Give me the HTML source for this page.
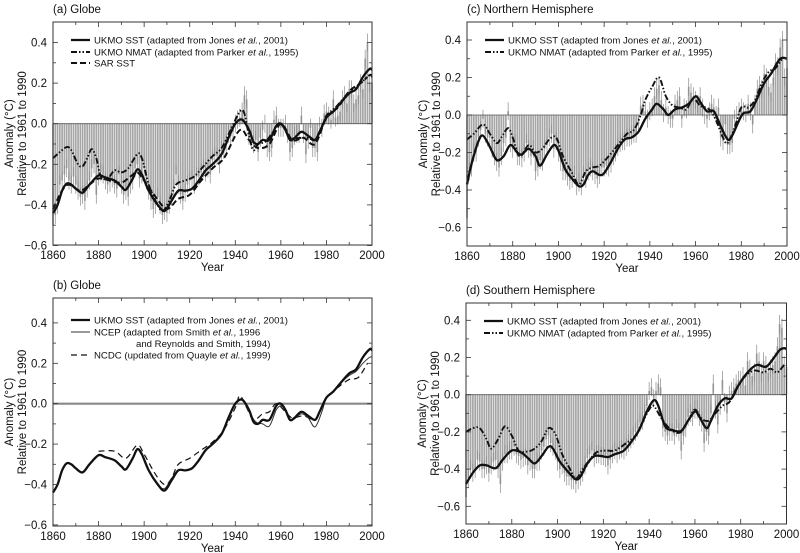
<!DOCTYPE html>
<html><head><meta charset="utf-8">
<style>
html,body{margin:0;padding:0;background:#fff;}
svg{display:block;font-family:"Liberation Sans",Arial,sans-serif;}
</style></head>
<body>
<svg id="fig" width="800" height="553" viewBox="0 0 800 553" xmlns="http://www.w3.org/2000/svg"></svg>
<script>
// ---------- DATA ----------
const years = []; for (let y = 1860; y <= 2000; y++) years.push(y);
const xTicks = [1860, 1880, 1900, 1920, 1940, 1960, 1980, 2000];
const yTicks = [0.4, 0.2, 0.0, -0.2, -0.4, -0.6];
const yTickLabels = ["0.4", "0.2", "0.0", "\u22120.2", "\u22120.4", "\u22120.6"];

// annual bars
const barsA = [-0.50,-0.45,-0.40,-0.30,-0.28,-0.25,-0.22,-0.28,-0.30,-0.26,
-0.30,-0.33,-0.36,-0.35,-0.38,-0.32,-0.28,-0.22,-0.20,-0.35,
-0.26,-0.24,-0.25,-0.28,-0.30,-0.29,-0.27,-0.30,-0.32,-0.25,
-0.30,-0.35,-0.33,-0.36,-0.30,-0.28,-0.22,-0.20,-0.27,-0.25,
-0.22,-0.28,-0.33,-0.38,-0.42,-0.40,-0.36,-0.40,-0.45,-0.43,
-0.44,-0.40,-0.36,-0.32,-0.25,-0.30,-0.35,-0.38,-0.34,-0.30,
-0.28,-0.27,-0.30,-0.26,-0.26,-0.24,-0.22,-0.24,-0.22,-0.25,
-0.18,-0.16,-0.16,-0.20,-0.13,-0.13,-0.10,-0.05,-0.06,-0.04,
0.00,0.02,0.03,0.06,0.14,0.12,-0.06,-0.08,-0.10,-0.08,
-0.14,-0.07,-0.03,0.00,-0.12,-0.14,-0.12,0.02,0.04,-0.02,
-0.02,-0.02,0.00,-0.05,-0.14,-0.12,-0.06,-0.05,-0.05,0.04,
-0.05,-0.15,-0.08,-0.02,-0.12,-0.12,-0.14,-0.01,-0.02,0.05,
0.06,0.04,0.02,0.12,0.03,0.04,0.06,0.12,0.14,0.10,
0.17,0.17,0.10,0.12,0.14,0.20,0.17,0.32,0.40,0.20,
0.20];
const barsC = [-0.55,-0.30,-0.28,-0.20,-0.20,-0.12,-0.08,-0.02,-0.10,-0.12,
-0.12,-0.18,-0.22,-0.25,-0.28,-0.22,-0.15,-0.12,0.02,-0.15,
-0.18,-0.15,-0.22,-0.22,-0.23,-0.20,-0.15,-0.18,-0.22,-0.18,
-0.30,-0.28,-0.24,-0.25,-0.18,-0.16,-0.12,-0.10,-0.18,-0.14,
-0.20,-0.25,-0.30,-0.30,-0.33,-0.35,-0.34,-0.32,-0.38,-0.36,
-0.38,-0.32,-0.34,-0.30,-0.28,-0.30,-0.32,-0.34,-0.32,-0.28,
-0.28,-0.27,-0.28,-0.26,-0.22,-0.20,-0.17,-0.15,-0.14,-0.14,
-0.12,-0.12,-0.11,-0.10,-0.10,-0.05,0.05,0.06,0.02,-0.02,
0.02,0.04,0.10,0.14,0.16,0.08,0.01,0.04,0.00,-0.02,
-0.02,0.06,0.08,0.10,-0.02,0.04,0.03,0.15,0.12,0.10,
0.08,0.06,0.10,0.04,0.00,-0.02,0.02,0.06,0.04,0.00,
0.04,-0.12,-0.14,-0.05,-0.16,-0.16,-0.15,-0.02,0.00,0.02,
0.04,0.02,0.01,0.06,0.02,-0.05,0.06,0.14,0.16,0.14,
0.22,0.20,0.15,0.12,0.20,0.28,0.26,0.36,0.40,0.20,
0.25];
const barsD = [-0.55,-0.45,-0.40,-0.42,-0.40,-0.35,-0.36,-0.40,-0.40,-0.38,
-0.42,-0.38,-0.36,-0.35,-0.40,-0.48,-0.36,-0.32,-0.32,-0.30,
-0.30,-0.28,-0.32,-0.33,-0.35,-0.34,-0.33,-0.38,-0.36,-0.40,
-0.40,-0.36,-0.36,-0.30,-0.28,-0.24,-0.22,-0.26,-0.28,-0.30,
-0.36,-0.40,-0.38,-0.42,-0.44,-0.44,-0.46,-0.46,-0.48,-0.46,
-0.44,-0.42,-0.38,-0.34,-0.32,-0.30,-0.34,-0.32,-0.32,-0.33,
-0.33,-0.34,-0.38,-0.35,-0.32,-0.30,-0.32,-0.30,-0.29,-0.30,
-0.28,-0.26,-0.24,-0.22,-0.20,-0.18,-0.15,-0.14,-0.10,-0.06,
0.02,0.04,-0.02,0.02,0.06,0.04,-0.18,-0.20,-0.22,-0.20,
-0.20,-0.22,-0.18,-0.20,-0.30,-0.22,-0.18,-0.12,-0.10,-0.12,
-0.08,-0.08,-0.12,-0.15,-0.26,-0.20,-0.22,-0.10,0.06,-0.08,
-0.16,-0.06,0.08,-0.04,-0.10,0.00,0.02,0.04,0.06,0.08,
0.08,0.10,0.05,0.18,0.14,0.10,0.12,0.22,0.18,0.12,
0.18,0.16,0.12,0.14,0.16,0.18,0.26,0.38,0.36,0.16,
0.15];

// smoothed series: years + values
const gSstYears = [1860,1862,1864,1866,1868,1870,1873,1876,1880,1883,1887,1890,1892,1895,1897,1899,1902,1906,1909,1912,1915,1918,1921,1924,1927,1930,1934,1937,1940,1943,1946,1948,1950,1952,1955,1958,1960,1962,1964,1966,1969,1972,1975,1977,1980,1983,1986,1990,1993,1996,1999,2000];
const gSstVals = [-0.44,-0.40,-0.33,-0.295,-0.30,-0.32,-0.34,-0.30,-0.255,-0.265,-0.28,-0.31,-0.325,-0.27,-0.225,-0.25,-0.33,-0.40,-0.43,-0.38,-0.33,-0.33,-0.32,-0.28,-0.23,-0.20,-0.15,-0.07,0.0,0.02,-0.03,-0.09,-0.10,-0.08,-0.08,-0.01,0.0,-0.03,-0.08,-0.07,-0.04,-0.06,-0.08,-0.04,0.03,0.06,0.10,0.15,0.17,0.23,0.27,0.265];
const gNmatYears = [1860,1863,1866,1868,1871,1873,1875,1877,1879,1881,1884,1887,1890,1893,1897,1899,1902,1905,1908,1911,1914,1918,1922,1926,1930,1934,1938,1942,1944,1946,1948,1950,1953,1956,1959,1961,1964,1968,1972,1975,1978,1980,1984,1988,1992,1995,1999,2000];
const gNmatVals = [-0.17,-0.14,-0.115,-0.13,-0.20,-0.21,-0.17,-0.125,-0.17,-0.26,-0.27,-0.23,-0.24,-0.22,-0.15,-0.17,-0.30,-0.38,-0.43,-0.38,-0.30,-0.28,-0.26,-0.21,-0.16,-0.12,-0.03,0.06,0.05,-0.06,-0.13,-0.10,-0.09,-0.05,0.0,-0.01,-0.07,-0.07,-0.07,-0.08,-0.02,0.04,0.08,0.13,0.17,0.20,0.24,0.23];
const gSarYears = [1860,1864,1867,1872,1876,1880,1885,1890,1894,1897,1900,1905,1910,1915,1920,1925,1930,1935,1940,1943,1946,1950,1955,1960,1965,1970,1975,1980,1985,1990,1995,1998];
const gSarVals = [-0.42,-0.33,-0.30,-0.33,-0.30,-0.27,-0.28,-0.29,-0.26,-0.24,-0.28,-0.36,-0.42,-0.37,-0.35,-0.28,-0.22,-0.17,-0.06,-0.03,-0.08,-0.12,-0.10,0.0,-0.08,-0.07,-0.10,0.03,0.08,0.16,0.20,0.23];
const bNcepYears = [1860,1862,1864,1866,1868,1870,1873,1876,1880,1883,1887,1890,1892,1895,1897,1899,1902,1906,1909,1912,1915,1918,1921,1924,1927,1930,1934,1937,1940,1943,1946,1949,1952,1955,1958,1960,1962,1964,1966,1969,1972,1975,1978,1980,1983,1986,1990,1993,1996,1999,2000];
const bNcepVals = [-0.44,-0.40,-0.33,-0.295,-0.30,-0.32,-0.34,-0.30,-0.255,-0.265,-0.28,-0.31,-0.325,-0.27,-0.225,-0.25,-0.33,-0.40,-0.42,-0.37,-0.33,-0.33,-0.32,-0.28,-0.23,-0.20,-0.15,-0.07,0.0,0.02,-0.04,-0.09,-0.10,-0.11,-0.03,-0.01,-0.03,-0.08,-0.075,-0.05,-0.07,-0.115,-0.04,0.03,0.06,0.10,0.14,0.16,0.20,0.23,0.23];
const bNcdcYears = [1880,1887,1892,1897,1900,1905,1909,1912,1915,1920,1925,1930,1935,1940,1942,1945,1948,1952,1955,1958,1962,1965,1970,1975,1978,1980,1985,1990,1994,1998];
const bNcdcVals = [-0.235,-0.235,-0.27,-0.205,-0.25,-0.35,-0.40,-0.37,-0.30,-0.27,-0.23,-0.19,-0.13,-0.02,0.04,-0.02,-0.08,-0.05,-0.04,0.0,-0.04,-0.07,-0.06,-0.08,-0.01,0.03,0.08,0.12,0.13,0.20];
const nSstYears = [1860,1862,1865,1867,1870,1873,1876,1879,1882,1884,1887,1890,1892,1895,1898,1900,1903,1906,1909,1911,1913,1915,1918,1920,1923,1926,1929,1932,1935,1938,1941,1943,1946,1948,1951,1954,1957,1960,1962,1965,1968,1971,1974,1976,1979,1981,1984,1987,1990,1993,1997,2000];
const nSstVals = [-0.37,-0.26,-0.14,-0.11,-0.17,-0.24,-0.22,-0.16,-0.20,-0.21,-0.18,-0.22,-0.27,-0.21,-0.16,-0.19,-0.29,-0.34,-0.38,-0.37,-0.32,-0.30,-0.32,-0.31,-0.25,-0.18,-0.13,-0.12,-0.09,-0.02,0.03,0.06,0.03,0.0,0.03,0.04,0.06,0.10,0.07,0.02,0.02,-0.06,-0.13,-0.11,-0.03,0.01,0.02,0.09,0.17,0.22,0.30,0.30];
const nNmatYears = [1860,1863,1867,1870,1873,1875,1878,1880,1883,1887,1890,1893,1896,1899,1902,1906,1909,1912,1915,1918,1922,1926,1930,1933,1936,1938,1941,1944,1947,1950,1953,1956,1959,1962,1966,1969,1972,1974,1977,1980,1983,1986,1989,1992,1995,1998,2000];
const nNmatVals = [-0.13,-0.10,-0.05,-0.10,-0.15,-0.12,-0.07,-0.12,-0.22,-0.16,-0.20,-0.18,-0.13,-0.12,-0.22,-0.31,-0.37,-0.30,-0.28,-0.27,-0.22,-0.16,-0.10,-0.08,0.0,0.08,0.15,0.20,0.10,0.05,0.04,0.03,0.09,0.05,0.03,-0.03,-0.12,-0.15,-0.07,0.04,0.04,0.08,0.17,0.23,0.25,0.30,0.30];
const sSstYears = [1860,1863,1866,1869,1873,1876,1880,1884,1887,1890,1893,1896,1898,1901,1905,1908,1910,1913,1916,1919,1922,1925,1929,1933,1936,1939,1942,1944,1947,1950,1954,1957,1960,1962,1965,1967,1970,1973,1976,1979,1983,1987,1991,1994,1997,1999,2000];
const sSstVals = [-0.48,-0.42,-0.38,-0.38,-0.395,-0.35,-0.30,-0.31,-0.34,-0.37,-0.33,-0.28,-0.29,-0.36,-0.42,-0.455,-0.44,-0.37,-0.33,-0.33,-0.335,-0.32,-0.30,-0.24,-0.18,-0.09,-0.03,-0.06,-0.17,-0.19,-0.195,-0.14,-0.09,-0.12,-0.18,-0.14,-0.06,-0.02,-0.02,0.05,0.12,0.16,0.15,0.19,0.24,0.25,0.245];
const sNmatYears = [1860,1863,1866,1869,1871,1874,1877,1880,1883,1887,1890,1893,1896,1899,1902,1905,1908,1911,1914,1917,1921,1925,1930,1934,1937,1940,1942,1945,1948,1951,1954,1957,1960,1963,1966,1969,1972,1975,1978,1982,1986,1990,1993,1996,1999,2000];
const sNmatVals = [-0.20,-0.18,-0.18,-0.24,-0.29,-0.24,-0.17,-0.22,-0.30,-0.305,-0.29,-0.25,-0.18,-0.21,-0.32,-0.39,-0.45,-0.40,-0.35,-0.31,-0.30,-0.30,-0.26,-0.22,-0.15,-0.08,-0.06,-0.12,-0.17,-0.20,-0.20,-0.14,-0.08,-0.13,-0.14,-0.10,-0.06,-0.04,0.03,0.10,0.13,0.12,0.14,0.12,0.16,0.16];

// ---------- DRAWING ----------
const NS = "http://www.w3.org/2000/svg";
const svg = document.getElementById('fig');
function mk(tag, attrs, parent) {
  const e = document.createElementNS(NS, tag);
  for (const k in attrs) e.setAttribute(k, attrs[k]);
  (parent || svg).appendChild(e);
  return e;
}
function path(xs, ys, sx, sy) {
  const P = xs.map((x, i) => [sx(x), sy(ys[i])]);
  let d = "M" + P[0][0].toFixed(2) + "," + P[0][1].toFixed(2);
  for (let i = 0; i < P.length - 1; i++) {
    const p0 = P[i - 1] || P[i], p1 = P[i], p2 = P[i + 1], p3 = P[i + 2] || P[i + 1];
    const c1x = p1[0] + (p2[0] - p0[0]) / 6, c1y = p1[1] + (p2[1] - p0[1]) / 6;
    const c2x = p2[0] - (p3[0] - p1[0]) / 6, c2y = p2[1] - (p3[1] - p1[1]) / 6;
    d += " C" + c1x.toFixed(2) + "," + c1y.toFixed(2) + " " + c2x.toFixed(2) + "," + c2y.toFixed(2) + " " + p2[0].toFixed(2) + "," + p2[1].toFixed(2);
  }
  return d;
}
const styles = {
  solid: {stroke: "#111", "stroke-width": 2.3, fill: "none"},
  dashdot: {stroke: "#111", "stroke-width": 1.9, fill: "none", "stroke-dasharray": "6,2,1.5,2,1.5,2"},
  dash: {stroke: "#111", "stroke-width": 2.0, fill: "none", "stroke-dasharray": "6,3"},
  thin: {stroke: "#333", "stroke-width": 1.0, fill: "none"},
  thindash: {stroke: "#111", "stroke-width": 1.2, fill: "none", "stroke-dasharray": "6,4"}
};

function panel(cfg) {
  const g = mk('g', {});
  
  
  const sx = y => cfg.x0 + (y - 1860) / 140 * (cfg.x1 - cfg.x0);
  const sy = v => cfg.yz - v * cfg.s;
  const t = mk('text', {x: cfg.x0, y: cfg.top - 9, "font-size": 11.5, fill: "#111"}, g);
  t.textContent = cfg.title;
  
  
  if (cfg.bars) {
    const bg = mk('g', {}, g);
    
    
    cfg.bars.forEach((v, i) => {
      const x = sx(years[i]);
      const y0 = sy(0), y1 = sy(v);
      const r = mk('rect', {x: (x - 0.85).toFixed(2), y: Math.min(y0, y1).toFixed(2), width: 1.7, height: Math.abs(y1 - y0).toFixed(2), fill: "#a6a6a6"}, bg);
      
      
      const w = mk('line', {x1: x.toFixed(2), x2: x.toFixed(2), y1: (y1 - 9).toFixed(2), y2: (y1 + 9).toFixed(2), stroke: "#8a8a8a", "stroke-width": 0.7}, bg);
      
      
    });
  }
  const z = mk('line', {x1: cfg.x0, x2: cfg.x1, y1: sy(0), y2: sy(0), stroke: cfg.bars ? "#555" : "#888", "stroke-width": cfg.bars ? 0.8 : 2.2}, g);
  
  
  cfg.series.forEach(s => {
    const p = mk('path', Object.assign({d: path(s.xs, s.ys, sx, sy)}, styles[s.style]), g);
    
    
  });
  const f = mk('rect', {x: cfg.x0, y: cfg.top, width: cfg.x1 - cfg.x0, height: cfg.bottom - cfg.top, fill: "none", stroke: "#333", "stroke-width": 1}, g);
  
  
  for (let v = -0.6; v <= 0.45; v += 0.1) {
    const vv = Math.round(v * 10) / 10;
    const major = Math.abs(Math.round(vv * 10)) % 2 === 0;
    const L = major ? 5 : 3, y = sy(vv);
    mk('line', {x1: cfg.x0, x2: cfg.x0 + L, y1: y, y2: y, stroke: "#333", "stroke-width": 0.8}, g);
    mk('line', {x1: cfg.x1, x2: cfg.x1 - L, y1: y, y2: y, stroke: "#333", "stroke-width": 0.8}, g);
  }
  yTicks.forEach((v, i) => {
    const tl = mk('text', {x: cfg.x0 - 6, y: sy(v) + 4, "font-size": 11.5, "text-anchor": "end", fill: "#111"}, g);
    tl.textContent = yTickLabels[i];
    
    
  });
  for (let yr = 1860; yr <= 2000; yr += 10) {
    const major = (yr - 1860) % 20 === 0, L = major ? 5 : 3, x = sx(yr);
    mk('line', {x1: x, x2: x, y1: cfg.bottom, y2: cfg.bottom - L, stroke: "#333", "stroke-width": 0.8}, g);
    mk('line', {x1: x, x2: x, y1: cfg.top, y2: cfg.top + L, stroke: "#333", "stroke-width": 0.8}, g);
  }
  xTicks.forEach(yr => {
    const tl = mk('text', {x: sx(yr), y: cfg.bottom + 14, "font-size": 11.5, "text-anchor": "middle", fill: "#111"}, g);
    tl.textContent = yr;
    
    
  });
  const xt = mk('text', {x: (cfg.x0 + cfg.x1) / 2, y: cfg.bottom + 26, "font-size": 11.5, "text-anchor": "middle", fill: "#111"}, g);
  xt.textContent = "Year";
  
  
  const cy = (cfg.top + cfg.bottom) / 2;
  const ya = mk('text', {x: 0, y: 0, "font-size": 11.5, "text-anchor": "middle", fill: "#111", transform: `translate(${cfg.x0 - 40},${cy}) rotate(-90)`}, g);
  ya.textContent = "Anomaly (\u00B0C)";
  
  
  const yb = mk('text', {x: 0, y: 0, "font-size": 11.5, "text-anchor": "middle", fill: "#111", transform: `translate(${cfg.x0 - 27},${cy}) rotate(-90)`}, g);
  yb.textContent = "Relative to 1961 to 1990";
  
  
  const lg = mk('g', {}, g);
  
  
  cfg.legend.forEach((e, i) => {
    const y = cfg.legY + e.dy;
    mk('line', Object.assign({x1: cfg.x0 + 18, x2: cfg.x0 + 37, y1: y, y2: y}, styles[e.style]), lg);
    const tx = mk('text', {x: cfg.x0 + 41, y: y + 3.5, "font-size": 9.6, fill: "#111"}, lg);
    tx.innerHTML = e.html;
    
    
    if (e.extra) {
      const t2 = mk('text', {x: cfg.x0 + 83, y: y + 15, "font-size": 9.6, fill: "#111"}, lg);
      t2.textContent = e.extra;
      
      
    }
  });
}

const jones = 'UKMO SST (adapted from Jones <tspan font-style="italic">et al.</tspan>, 2001)';
const parker = 'UKMO NMAT (adapted from Parker <tspan font-style="italic">et al.</tspan>, 1995)';

panel({name: 'panel-a-globe', title: '(a)  Globe', x0: 53, x1: 372, yz: 123.7, s: 203, top: 22, bottom: 245, bars: barsA,
  series: [
    {name: 'sar-sst-line', xs: gSarYears, ys: gSarVals, style: 'dash'},
    {name: 'ukmo-nmat-line', xs: gNmatYears, ys: gNmatVals, style: 'dashdot'},
    {name: 'ukmo-sst-line', xs: gSstYears, ys: gSstVals, style: 'solid'}],
  legY: 40, legend: [{style: 'solid', html: jones, dy: 0}, {style: 'dashdot', html: parker, dy: 12}, {style: 'dash', html: 'SAR SST', dy: 23}]});

panel({name: 'panel-b-globe', title: '(b)  Globe', x0: 53, x1: 372, yz: 403.7, s: 202, top: 298, bottom: 526, bars: null,
  series: [
    {name: 'ncdc-line', xs: bNcdcYears, ys: bNcdcVals, style: 'thindash'},
    {name: 'ncep-line', xs: bNcepYears, ys: bNcepVals, style: 'thin'},
    {name: 'ukmo-sst-line', xs: gSstYears, ys: gSstVals, style: 'solid'}],
  legY: 320, legend: [{style: 'solid', html: jones, dy: 0},
    {style: 'thin', html: 'NCEP (adapted from Smith <tspan font-style="italic">et al.</tspan>, 1996', dy: 12, extra: 'and Reynolds and Smith, 1994)'},
    {style: 'thindash', html: 'NCDC (updated from Quayle <tspan font-style="italic">et al.</tspan>, 1999)', dy: 35}]});

panel({name: 'panel-c-northern-hemisphere', title: '(c)  Northern Hemisphere', x0: 467, x1: 787, yz: 115, s: 187.5, top: 22, bottom: 246, bars: barsC,
  series: [
    {name: 'ukmo-nmat-line', xs: nNmatYears, ys: nNmatVals, style: 'dashdot'},
    {name: 'ukmo-sst-line', xs: nSstYears, ys: nSstVals, style: 'solid'}],
  legY: 40, legend: [{style: 'solid', html: jones, dy: 0}, {style: 'dashdot', html: parker, dy: 12}]});

panel({name: 'panel-d-southern-hemisphere', title: '(d)  Southern Hemisphere', x0: 466, x1: 786.5, yz: 394.7, s: 186, top: 303, bottom: 524, bars: barsD,
  series: [
    {name: 'ukmo-nmat-line', xs: sNmatYears, ys: sNmatVals, style: 'dashdot'},
    {name: 'ukmo-sst-line', xs: sSstYears, ys: sSstVals, style: 'solid'}],
  legY: 321, legend: [{style: 'solid', html: jones, dy: 0}, {style: 'dashdot', html: parker, dy: 12}]});
</script>
</body></html>
